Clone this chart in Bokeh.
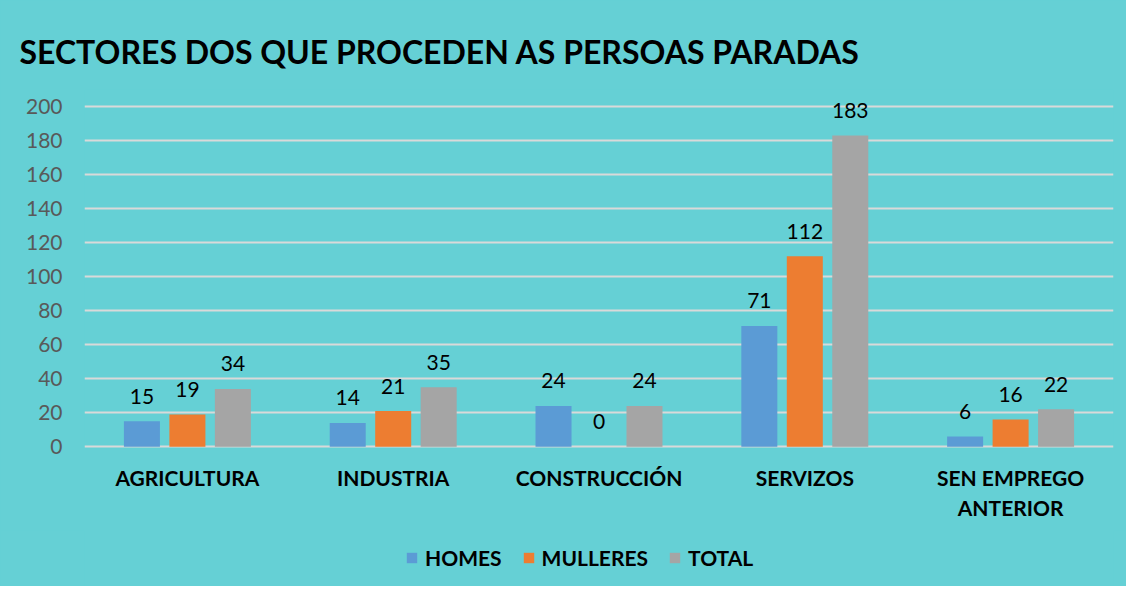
from bokeh.plotting import figure
from bokeh.layouts import column
from bokeh.models import FactorRange, Range1d, FixedTicker, Legend, LegendItem, ColumnDataSource
from bokeh.transform import dodge
from bokeh.core.properties import value
from bokeh.embed import file_html
from bokeh.resources import INLINE

categories = ["AGRICULTURA", "INDUSTRIA", "CONSTRUCCIÓN", "SERVIZOS", "SEN EMPREGO\nANTERIOR"]
homes = [15, 14, 24, 71, 6]
mulleres = [19, 21, 0, 112, 16]
total = [34, 35, 24, 183, 22]
series_names = ["HOMES", "MULLERES", "TOTAL"]
y_ticks = [0, 20, 40, 60, 80, 100, 120, 140, 160, 180, 200]

BG = "#65D0D5"
COLORS = ["#5B9BD5", "#ED7D31", "#A5A5A5"]
FONT = "Lato"

src = ColumnDataSource(dict(cat=categories, homes=homes, mulleres=mulleres, total=total,
                            homes_t=[str(v) for v in homes],
                            mulleres_t=[str(v) for v in mulleres],
                            total_t=[str(v) for v in total]))

p = figure(width=1126, height=530, x_range=FactorRange(*categories), y_range=Range1d(-1, 210),
           output_backend="svg", toolbar_location=None,
           min_border_left=84, min_border_right=13, min_border_top=89, min_border_bottom=82)
p.background_fill_color = None
p.border_fill_color = BG
p.outline_line_color = None

p.title.text = "SECTORES DOS QUE PROCEDEN AS PERSOAS PARADAS"
p.title.text_font = FONT
p.title.text_font_style = "bold"
p.title.text_font_size = "32px"
p.title.text_color = "black"
p.title.offset = -65
p.title.standoff = 37

p.xgrid.grid_line_color = None
p.ygrid.grid_line_color = "#D9D9D9"
p.ygrid.grid_line_width = 2
p.yaxis.ticker = FixedTicker(ticks=y_ticks)
p.yaxis.axis_line_color = None
p.yaxis.major_tick_line_color = None
p.yaxis.minor_tick_line_color = None
p.yaxis.major_label_text_font = FONT
p.yaxis.major_label_text_font_size = "21px"
p.yaxis.major_label_text_color = "#595959"
p.yaxis.major_label_standoff = 16

p.xaxis.axis_line_color = None
p.xaxis.major_tick_line_color = None
p.xaxis.major_tick_out = 0
p.xaxis.major_label_text_font = FONT
p.xaxis.major_label_text_font_style = "bold"
p.xaxis.major_label_text_font_size = "21px"
p.xaxis.major_label_text_color = "black"
p.xaxis.major_label_standoff = 16

offsets = [-0.221, 0.0, 0.221]
fields = ["homes", "mulleres", "total"]
for f, off, col in zip(fields, offsets, COLORS):
    p.vbar(x=dodge("cat", off, range=p.x_range), top=f, width=0.175, source=src,
           fill_color=col, line_color=None)
    p.text(x=dodge("cat", off, range=p.x_range), y=f, text=f + "_t", source=src,
           text_font=value(FONT), text_font_size="21px", text_color="black",
           text_align="center", text_baseline="alphabetic", y_offset=-25)

# legend strip (separate figure so the legend is not clipped by the main frame)
lg = figure(width=1126, height=56, output_backend="svg", toolbar_location=None,
            x_axis_location=None, y_axis_location=None,
            min_border_left=0, min_border_right=0, min_border_top=0, min_border_bottom=0)
lg.background_fill_color = None
lg.border_fill_color = BG
lg.outline_line_color = None
lg.xgrid.grid_line_color = None
lg.ygrid.grid_line_color = None
items = []
for col, name in zip(COLORS, series_names):
    # zero-height swatch carrier: draws nothing, only feeds the legend
    r = lg.vbar(x=[0], top=[0], bottom=[0], width=0, fill_color=col, line_color=None)
    items.append(LegendItem(label=name, renderers=[r]))

legend = Legend(items=items, orientation="horizontal", location=(321, 16),
                label_text_font=FONT, label_text_font_style="bold", label_text_font_size="21px",
                label_text_color="black", glyph_width=13, glyph_height=13, label_standoff=7,
                spacing=20, background_fill_alpha=0, border_line_color=None, margin=0, padding=0)
lg.add_layout(legend, "center")

layout = column(p, lg, spacing=0, styles={"background-color": BG})
open("out.html", "w").write(file_html(layout, INLINE))
